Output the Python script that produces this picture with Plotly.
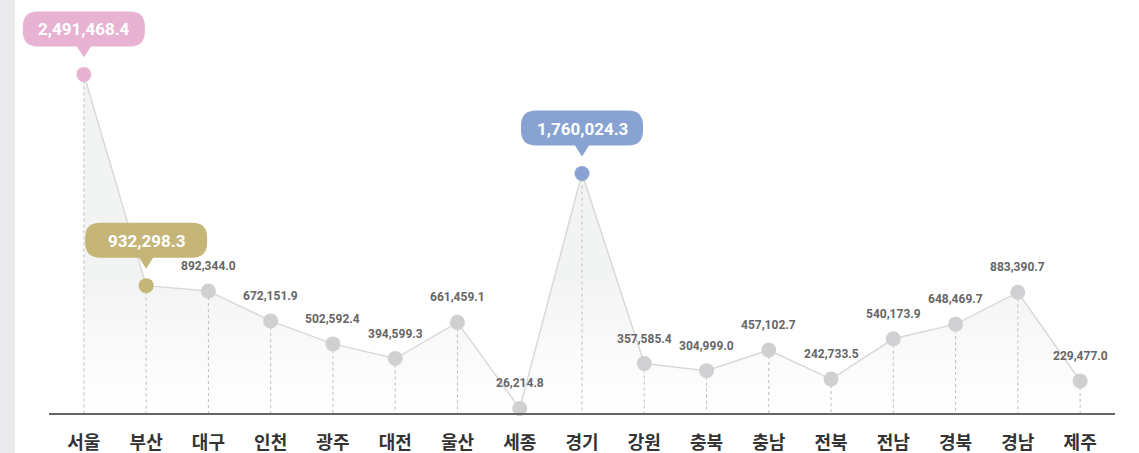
import plotly.graph_objects as go

regions = ["서울", "부산", "대구", "인천", "광주", "대전", "울산", "세종", "경기",
           "강원", "충북", "충남", "전북", "전남", "경북", "경남", "제주"]
values = [2491468.4, 932298.3, 892344.0, 672151.9, 502592.4, 394599.3, 661459.1,
          26214.8, 1760024.3, 357585.4, 304999.0, 457102.7, 242733.5, 540173.9,
          648469.7, 883390.7, 229477.0]
highlights = {"서울": "#e8b3d3", "부산": "#c5b678", "경기": "#88a3d1"}

Y_MIN, Y_MAX = -7400, 2966800
X_MIN, X_MAX = -0.56, len(regions) - 1 + 0.56
GRAY_DOT = "#d0d0d2"


def bubble_path(w=122, h=35, gap=28, tip=17, r=15, pw=7):
    # pixel offsets relative to the anchored data point (y up)
    x0, x1 = -w / 2, w / 2
    y0, y1 = gap, gap + h
    return (f"M {-pw},{y0} L {x0 + r},{y0} Q {x0},{y0} {x0},{y0 + r} "
            f"L {x0},{y1 - r} Q {x0},{y1} {x0 + r},{y1} L {x1 - r},{y1} "
            f"Q {x1},{y1} {x1},{y1 - r} L {x1},{y0 + r} Q {x1},{y0} {x1 - r},{y0} "
            f"L {pw},{y0} L 0,{tip} Z")


fig = go.Figure()

# area + line
fig.add_trace(go.Scatter(
    x=regions, y=values, mode="lines", fill="tozeroy",
    line=dict(color="#d9d9d9", width=1.5),
    fillgradient=dict(type="vertical", start=0, stop=1000000,
                      colorscale=[[0, "rgba(255,255,255,1)"], [1, "#f2f4f3"]]),
    hoverinfo="skip"))

# dotted drop lines
dx, dy = [], []
for r, v in zip(regions, values):
    dx += [r, r, None]
    dy += [v, Y_MIN, None]
fig.add_trace(go.Scatter(x=dx, y=dy, mode="lines", hoverinfo="skip",
                         line=dict(color="#bdbdbd", width=1, dash="dot")))

# markers
colors = [highlights.get(r, GRAY_DOT) for r in regions]
fig.add_trace(go.Scatter(
    x=regions, y=values, mode="markers", cliponaxis=False,
    marker=dict(size=15, color=colors, line=dict(width=0))))

shapes = [dict(type="rect", xref="paper", yref="paper",
               x0=-49 / 1066, x1=-34 / 1066, y0=-1, y1=2,
               fillcolor="#ebebed", line=dict(width=0), layer="below")]
annotations = []
for i, (r, v) in enumerate(zip(regions, values)):
    if r in highlights:
        # paper-referenced so the bubble is not clipped at the plot edge
        px_ = (i - X_MIN) / (X_MAX - X_MIN)
        py_ = (v - Y_MIN) / (Y_MAX - Y_MIN)
        shapes.append(dict(type="path", xref="paper", yref="paper",
                           xsizemode="pixel", ysizemode="pixel",
                           xanchor=px_, yanchor=py_, path=bubble_path(),
                           fillcolor=highlights[r], line=dict(width=0)))
        annotations.append(dict(x=r, y=v, text=f"{v:,.1f}", showarrow=False,
                                yshift=45, font=dict(family="Roboto", size=17,
                                                     color="white", weight="bold")))
    else:
        annotations.append(dict(x=r, y=v, text=f"{v:,.1f}", showarrow=False,
                                yshift=25, font=dict(family="Roboto", size=12,
                                                     color="#666666", weight="bold")))

fig.update_layout(
    width=1139, height=453,
    margin=dict(l=49, r=24, t=10, b=40),
    paper_bgcolor="white", plot_bgcolor="white",
    showlegend=False,
    shapes=shapes, annotations=annotations,
)
fig.update_xaxes(type="category", range=[X_MIN, X_MAX], showgrid=False, zeroline=False,
                 showline=True, linecolor="#666666", linewidth=1.5, automargin=False,
                 ticks="outside", ticklen=13, tickcolor="rgba(0,0,0,0)",
                 tickfont=dict(family="Noto Sans CJK KR", size=18, color="#333333",
                               weight="bold"))
fig.update_yaxes(range=[Y_MIN, Y_MAX], visible=False)

fig.write_html("out.html", config={"displayModeBar": False},
               post_script="document.body.style.margin='0';")
